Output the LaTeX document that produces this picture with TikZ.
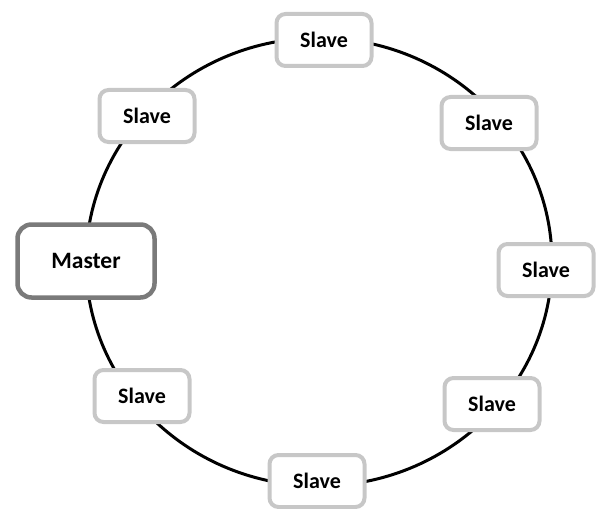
\documentclass[tikz,border=0pt]{standalone}
\usepackage{fontspec}
\setmainfont{Carlito}
\tikzset{
    slavebox/.style={draw=black!22,line width=4pt,fill=white,rounded corners=9pt,
        minimum width=95pt,minimum height=52pt,font=\fontsize{22}{26}\selectfont\bfseries},
    masterbox/.style={draw=black!52,line width=4.5pt,fill=white,rounded corners=14pt,
        minimum width=137pt,minimum height=73pt,font=\fontsize{23.5}{28}\selectfont\bfseries}
}

\begin{document}
\begin{tikzpicture}[x=1pt,y=-1pt]
    \useasboundingbox (0,0) rectangle (596,508);
    \coordinate (Ring) at (319,262);

    \draw [line width=3pt,black] (Ring) ellipse [x radius=233pt,y radius=224pt];

    \node[masterbox] (master) at (86,261) {Master};
    \node[slavebox] (slave0) at (324,40) {Slave};
    \node[slavebox] (slave1) at (489,123) {Slave};
    \node[slavebox] (slave2) at (546,270) {Slave};
    \node[slavebox] (slave3) at (492,404) {Slave};
    \node[slavebox] (slave4) at (317,481) {Slave};
    \node[slavebox] (slave5) at (142,396) {Slave};
    \node[slavebox] (slave6) at (147,116) {Slave};
\end{tikzpicture}
\end{document}
